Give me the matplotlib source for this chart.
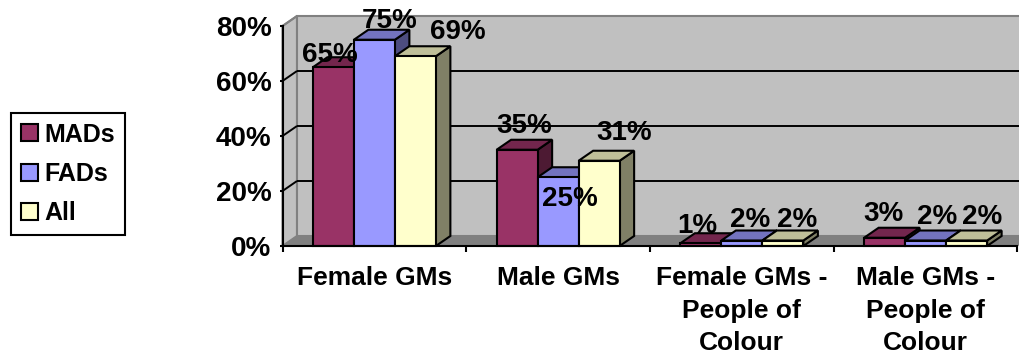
import matplotlib
matplotlib.use("Agg")
import matplotlib.pyplot as plt
from matplotlib.colors import to_rgb
from matplotlib.patches import Polygon, Patch

plt.rcParams['font.family'] = ['Liberation Sans', 'DejaVu Sans']
plt.rcParams['font.weight'] = 'bold'

categories = ['Female GMs', 'Male GMs', 'Female GMs -\nPeople of\nColour', 'Male GMs -\nPeople of\nColour']
series_names = ['MADs', 'FADs', 'All']
mads = [65, 35, 1, 3]
fads = [75, 25, 2, 2]
everyone = [69, 31, 2, 2]
y_ticks = [0, 20, 40, 60, 80]

colors = ['#993366', '#9999FF', '#FFFFCC']

# pixel offsets of each value label from the top-centre of its bar
label_offsets = [
    [(-3.5, -12), (7.5, -24), (-3.5, -17), (-1.5, -24)],
    [(15, -19), (12, 22), (8.5, -20.5), (11.5, -23.5)],
    [(42.5, -24), (25.5, -28), (14.5, -20.5), (15.5, -23.5)],
]

W, H = 1020, 354
fig = plt.figure(figsize=(W / 100, H / 100), dpi=100, facecolor='white')
left, right, top, bottom = 282.5, 1017.5, 26, 246
ax = fig.add_axes([left / W, 1 - bottom / H, (right - left) / W, (bottom - top) / H])
ax.set_xlim(0, 4)
ax.set_ylim(0, 80)
ax.patch.set_visible(False)

# depth of the 3-D projection, in data units
px_x = 4 / (right - left)
px_y = 80 / (bottom - top)
dx = 14.5 * px_x
dy = 10 * px_y
x_far = 4 + dx

LW = 1.5
EDGE = 'black'


def shade(color, factor):
    return tuple(c * factor for c in to_rgb(color))


def face(points, color, z, edge=EDGE, lw=LW):
    ax.add_patch(Polygon(points, closed=True, facecolor=color, edgecolor=edge,
                         linewidth=lw, joinstyle='miter', clip_on=False, zorder=z))


# chart walls and floor
wall = '#C0C0C0'
wall_edge = '#808080'
face([(0, 0), (dx, dy), (dx, 80 + dy), (0, 80)], wall, 1, wall_edge, 1.5)
face([(dx, dy), (x_far, dy), (x_far, 80 + dy), (dx, 80 + dy)], wall, 1, wall_edge, 1.5)
face([(0, 0), (4, 0), (x_far, dy), (dx, dy)], wall_edge, 1, wall_edge, 0.5)

# gridlines across the back wall and the side wall
for v in y_ticks[1:-1]:
    ax.plot([dx, x_far], [v + dy, v + dy], color='black', lw=1.4, zorder=2,
            clip_on=False, solid_capstyle='butt')
for v in y_ticks[1:]:
    ax.plot([0, dx], [v, v + dy], color='black' if v < 80 else wall_edge, lw=1.4,
            zorder=2, clip_on=False, solid_capstyle='butt')

# bars, painted left to right so each front face covers its neighbour's side
bar_w = 41 / 183.75
gap = (1 - 3 * bar_w) / 2
all_series = [mads, fads, everyone]
z = 3
for cat in range(len(categories)):
    for s, values in enumerate(all_series):
        v = values[cat]
        x0 = cat + gap + s * bar_w
        x1 = x0 + bar_w
        c = colors[s]
        face([(x1, 0), (x1 + dx, dy), (x1 + dx, v + dy), (x1, v)], shade(c, 0.5), z)
        face([(x0, v), (x1, v), (x1 + dx, v + dy), (x0 + dx, v + dy)], shade(c, 0.75), z)
        face([(x0, 0), (x1, 0), (x1, v), (x0, v)], c, z)
        z += 1

# value labels
for s, values in enumerate(all_series):
    for cat, v in enumerate(values):
        xc = cat + gap + (s + 0.5) * bar_w
        ox, oy = label_offsets[s][cat]
        ax.annotate(f'{v}%', xy=(xc, v), xytext=(ox, -oy), textcoords='offset pixels',
                    ha='center', va='center', fontsize=20, color='black',
                    annotation_clip=False, zorder=50)

# axes
for name in ('top', 'right'):
    ax.spines[name].set_visible(False)
for name in ('left', 'bottom'):
    ax.spines[name].set_linewidth(LW)
    ax.spines[name].set_zorder(40)

ax.set_yticks(y_ticks)
ax.set_yticklabels([f'{v}%' for v in y_ticks], fontsize=20)
ax.tick_params(axis='y', length=2.5, width=LW, pad=5.5)
ax.set_xticks(range(5))
ax.set_xticklabels([])
ax.tick_params(axis='x', which='major', length=4.5, width=LW)
ax.set_xticks([i + 0.5 for i in range(4)], minor=True)
ax.set_xticklabels(categories, minor=True, fontsize=19, linespacing=1.45)
ax.tick_params(axis='x', which='minor', length=0, pad=14.5)

# legend
handles = [Patch(facecolor=c, edgecolor='black', linewidth=LW) for c in colors]
leg = fig.legend(handles, series_names, loc='upper left',
                 bbox_to_anchor=(11 / W, 1 - 113 / H), bbox_transform=fig.transFigure,
                 fontsize=18, frameon=True, fancybox=False, framealpha=1, edgecolor='black',
                 handlelength=0.68, handleheight=0.68, handletextpad=0.28, labelspacing=0.62,
                 borderpad=0.38, borderaxespad=0)
leg.get_frame().set_linewidth(LW)

fig.savefig('out.png', dpi=100, facecolor='white')
